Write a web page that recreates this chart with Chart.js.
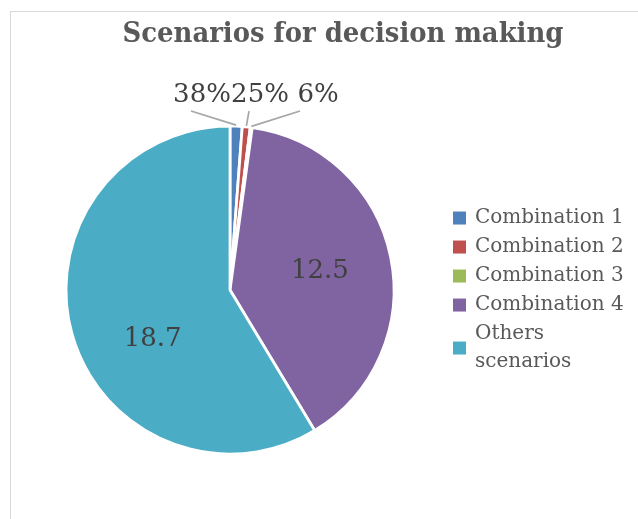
<!DOCTYPE html>
<html><head><meta charset="utf-8">
<script src="https://cdn.jsdelivr.net/npm/chart.js@4.4.0/dist/chart.umd.min.js"></script>
<style>
html,body{margin:0;padding:0;background:#fff;overflow:hidden;width:638px;height:519px;}
#frame{position:absolute;left:10px;top:11px;width:700px;height:600px;border-left:1px solid #d9d9d9;border-top:1px solid #d9d9d9;}
#c{position:absolute;left:11px;top:12px;}
</style></head><body>
<div id="frame"></div>
<canvas id="c" width="664" height="507"></canvas>
<script>
const titleText = 'Scenarios for decision making';
const categories = ['Combination 1', 'Combination 2', 'Combination 3', 'Combination 4', ['Others', 'scenarios']];
const values = [0.38, 0.25, 0.06, 12.5, 18.7];
const valueLabels = ['38%', '25%', '6%', '12.5', '18.7'];
const colors = ['#4F81BD', '#C0504D', '#9BBB59', '#8064A2', '#4BACC6'];

const sliceLabels = {
  id: 'sliceLabels',
  afterDatasetsDraw(chart, args, opts) {
    const ctx = chart.ctx;
    const meta = chart.getDatasetMeta(0);
    ctx.save();
    ctx.font = opts.font;
    ctx.fillStyle = opts.color;
    ctx.textAlign = 'center';
    ctx.textBaseline = 'middle';
    meta.data.forEach((arc, i) => {
      const p = arc.getProps(['x', 'y', 'startAngle', 'endAngle', 'outerRadius'], true);
      const mid = (p.startAngle + p.endAngle) / 2;
      const co = opts.callouts[i];
      if (co) {
        const ex = p.x + (p.outerRadius + 1) * Math.cos(mid);
        const ey = p.y + (p.outerRadius + 1) * Math.sin(mid);
        const ly = p.y - p.outerRadius - co.rise;
        ctx.strokeStyle = opts.lineColor;
        ctx.lineWidth = 1.7;
        ctx.beginPath();
        ctx.moveTo(p.x + co.lineX, ly + 16);
        ctx.lineTo(ex, ey);
        ctx.stroke();
        ctx.fillText(valueLabels[i], p.x + co.dx, ly);
      } else {
        const a = mid + (opts.angleShift[i] || 0) * Math.PI / 180;
        const r = p.outerRadius * opts.inside;
        ctx.fillText(valueLabels[i], p.x + r * Math.cos(a), p.y + r * Math.sin(a));
      }
    });
    ctx.restore();
  }
};

const sideLegend = {
  id: 'sideLegend',
  afterDraw(chart, args, opts) {
    const ctx = chart.ctx;
    const area = chart.chartArea;
    const cy = (area.top + area.bottom) / 2;
    const ds = chart.data.datasets[0];
    let y = cy + opts.startOffset;
    ctx.save();
    ctx.font = opts.font;
    ctx.textBaseline = 'middle';
    ctx.textAlign = 'left';
    chart.data.labels.forEach((lab, i) => {
      const lines = Array.isArray(lab) ? lab : [lab];
      const blockMid = y + (lines.length - 1) * opts.lineHeight / 2;
      ctx.fillStyle = ds.backgroundColor[i];
      ctx.fillRect(area.right + opts.boxX, blockMid - opts.box / 2, opts.box, opts.box);
      ctx.fillStyle = opts.color;
      lines.forEach((t, k) => ctx.fillText(t, area.right + opts.textX, y + k * opts.lineHeight));
      y += (lines.length - 1) * opts.lineHeight + opts.step;
    });
    ctx.restore();
  }
};

new Chart(document.getElementById('c'), {
  type: 'pie',
  data: {
    labels: categories,
    datasets: [{
      data: values,
      backgroundColor: colors,
      borderColor: '#ffffff',
      borderWidth: 2.8,
      radius: 164
    }]
  },
  options: {
    responsive: false,
    animation: false,
    devicePixelRatio: 1,
    layout: { padding: { left: 5, right: 5, top: 0, bottom: 0 } },
    plugins: {
      legend: { display: false },
      tooltip: { enabled: false },
      title: {
        display: true,
        text: titleText,
        color: '#595959',
        font: { family: '"DejaVu Serif Condensed", "DejaVu Serif", serif', size: 28.8, weight: 'bold', lineHeight: 1.2 },
        padding: { top: 5.3, bottom: 9.2 }
      },
      subtitle: {
        display: true,
        position: 'right',
        fullSize: false,
        text: '',
        font: { size: 1, lineHeight: 1 },
        padding: { top: 225, bottom: 0 }
      },
      sliceLabels: {
        font: '26px "DejaVu Serif", serif',
        color: '#404040',
        lineColor: '#a6a6a6',
        inside: 0.56,
        angleShift: { 4: -17 },
        callouts: {
          0: { dx: -28, lineX: -39, rise: 31 },
          1: { dx: 30, lineX: 19, rise: 31 },
          2: { dx: 88, lineX: 70, rise: 31 }
        }
      },
      sideLegend: {
        font: '20px "DejaVu Serif", serif',
        color: '#595959',
        startOffset: -72,
        step: 29,
        lineHeight: 28,
        box: 13,
        boxX: 9,
        textX: 31
      }
    }
  },
  plugins: [sliceLabels, sideLegend]
});
</script>
</body></html>
